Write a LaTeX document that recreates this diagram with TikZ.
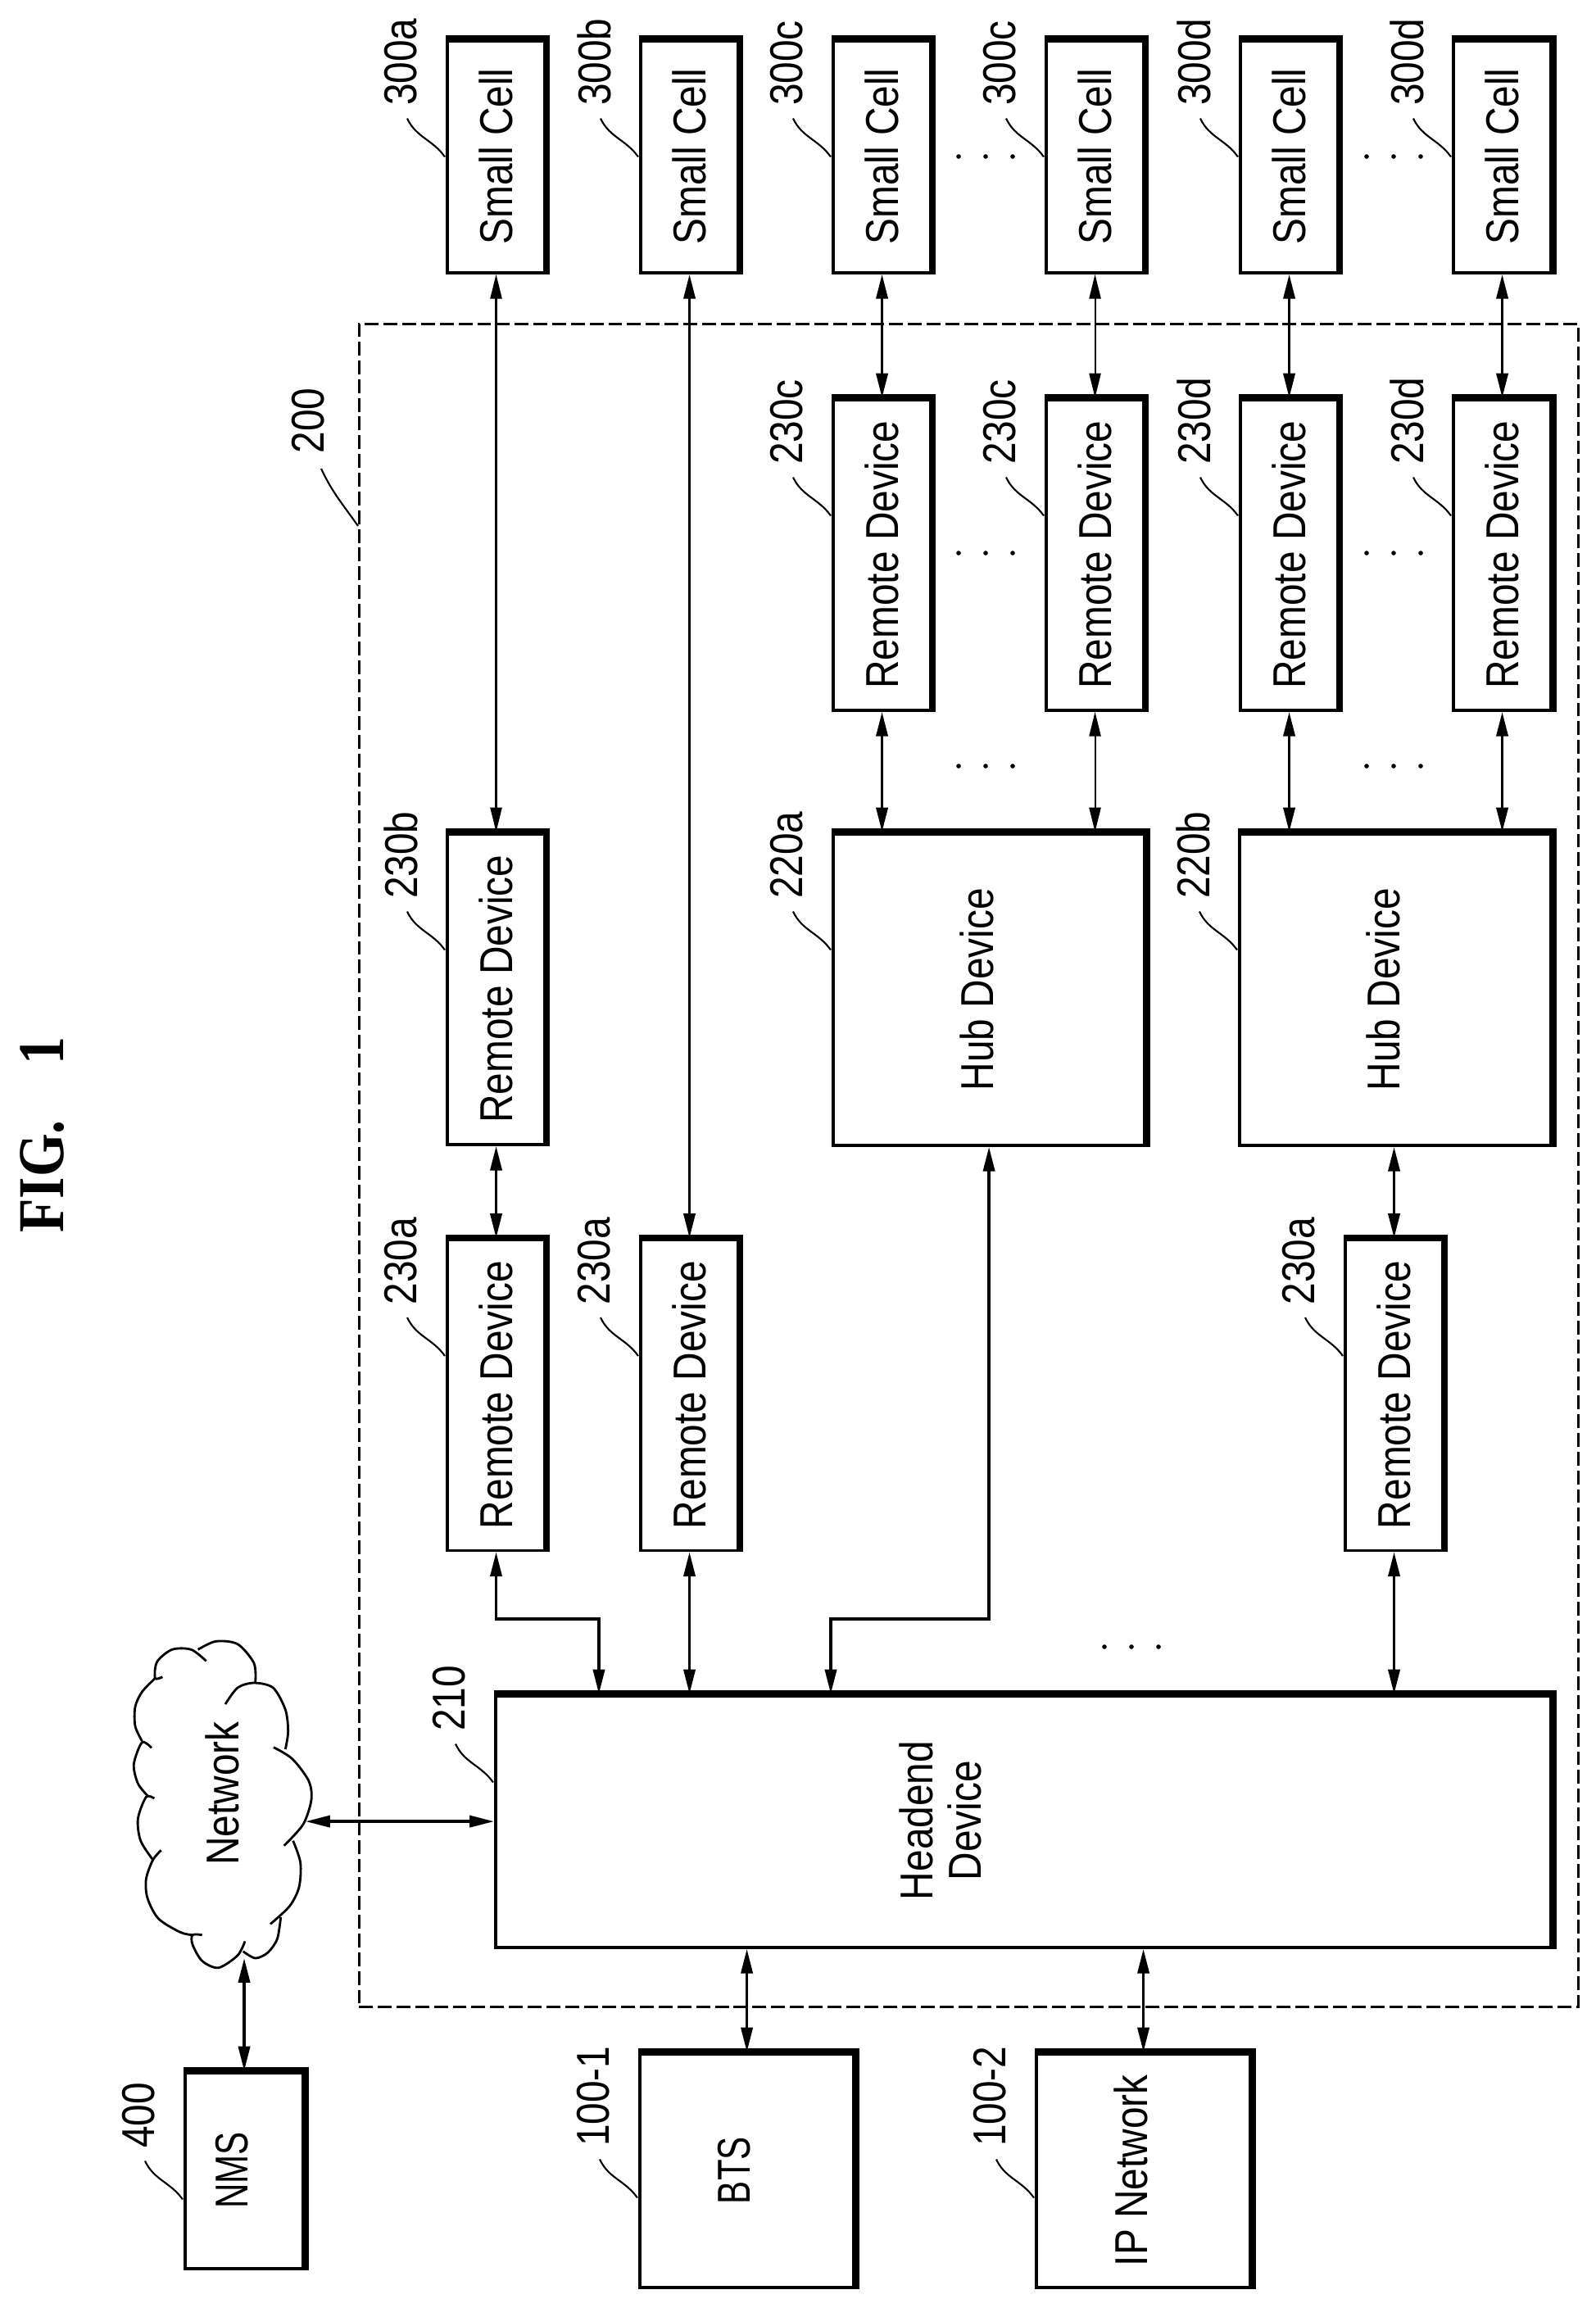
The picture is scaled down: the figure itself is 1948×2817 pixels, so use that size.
\documentclass[tikz,border=0pt]{standalone}
\usepackage{fontspec}
\setmainfont{Liberation Sans}
\newfontfamily\figfont{Liberation Serif}
\usetikzlibrary{arrows.meta}

\newcommand{\vt}[1]{\rotatebox{90}{\scalebox{0.85}[1]{#1}}}
\newcommand{\narrow}[1]{\scalebox{0.88}[1]{#1}}

\tikzset{
	devbox/.style={draw, line width=1pt, anchor=north west, inner sep=0pt, font=\fontsize{16}{17}\selectfont},
	cellbox/.style={devbox, minimum width=1.195cm, minimum height=2.835cm},
	remotebox/.style={devbox, minimum width=1.195cm, minimum height=3.795cm},
	hubbox/.style={devbox, minimum width=3.805cm, minimum height=3.805cm},
	bigbox/.style={devbox, minimum width=2.615cm, minimum height=2.855cm},
	idlabel/.style={anchor=south, inner sep=0pt, font=\fontsize{16}{17}\selectfont},
	boxtext/.style={inner sep=0pt, font=\fontsize{16}{17}\selectfont},
	leader/.style={line width=0.6pt},
	cloudline/.style={line width=0.8pt},
	link/.style={line width=1pt, {Stealth[length=8.5pt,width=4pt,inset=0pt]}-{Stealth[length=8.5pt,width=4pt,inset=0pt]}},
	thinlink/.style={link, line width=0.6pt},
}

\begin{document}
\begin{tikzpicture}[x=0.01cm, y=-0.01cm]

\path [use as bounding box] (0,0) rectangle (1948,2817);

% TITLE
\node [font=\figfont\bfseries\fontsize{22.7}{25}\selectfont, inner sep=0pt] (fig) at (52,1385) {\vt{FIG.\hspace{1em}1}};

% GROUP
\node [draw, dash pattern=on 4.8pt off 1.7pt, line width=0.75pt, anchor=north west, inner sep=0pt,
	minimum width=14.87cm, minimum height=20.53cm] (group) at (437,394) {};
\node [idlabel] (lgroup) at (376,554) {\vt{200}};
\draw [leader] (group.north west) ++(0,248) to[out=125,in=-65] ++(-45,-70);

% SMALL CELLS
\node [cellbox] (sa) at (544,47.5) {\vt{Small Cell}};
\node [cellbox] (sb) at (780,47.5) {\vt{Small Cell}};
\node [cellbox] (sc) at (1015,47.5) {\vt{Small Cell}};
\node [cellbox] (sd) at (1275,47.5) {\vt{Small Cell}};
\node [cellbox] (se) at (1512,47.5) {\vt{Small Cell}};
\node [cellbox] (sf) at (1772,47.5) {\vt{Small Cell}};

% REMOTE DEVICES
\node [remotebox] (rc) at (1015,485.5) {\vt{Remote Device}};
\node [remotebox] (rd) at (1275,485.5) {\vt{Remote Device}};
\node [remotebox] (re) at (1512,485.5) {\vt{Remote Device}};
\node [remotebox] (rf) at (1772,485.5) {\vt{Remote Device}};
\node [remotebox] (rb) at (544,1015.5) {\vt{Remote Device}};
\node [remotebox] (ra) at (544,1511) {\vt{Remote Device}};
\node [remotebox] (rg) at (780,1511) {\vt{Remote Device}};
\node [remotebox] (rh) at (1640,1511) {\vt{Remote Device}};

% HUBS
\node [hubbox] (huba) at (1015,1015.5) {};
\node [hubbox] (hubb) at (1511,1015.5) {};

% HEADEND
\node [devbox, minimum width=12.885cm, minimum height=3.075cm] (head) at (603,2067.5) {};
\node [boxtext] (thead) at (1156,2222) {\vt{\begin{tabular}{@{}c@{}}Headend\\Device\end{tabular}}};

% OUTSIDE
\node [devbox, minimum width=1.445cm, minimum height=2.395cm] (nms) at (224,2527.5) {};
\node [bigbox] (bts) at (779,2504.5) {};
\node [bigbox] (ipn) at (1263,2504.5) {};

% TEXT LEFT OF CENTRE
\foreach \n/\t in {huba/Hub Device,hubb/Hub Device,nms/\narrow{NMS},bts/\narrow{BTS},ipn/IP Network}
	\node [boxtext] (t\n) at ([xshift=-0.15cm]\n.center) {\vt{\t}};

% CLOUD
\node [boxtext] (net) at (271,2189) {\vt{Network}};
\coordinate (netport) at (373,2223);
\coordinate (netfoot) at (294,2390);
\begin{scope}[shift={(130,1950)}, x=0.01cm/3, y=-0.01cm/3]
\draw [cloudline] plot [smooth] coordinates {(205,290) (178,295) (185,235) (240,190) (310,190) (365,232)};
\draw [cloudline] plot [smooth] coordinates {(335,190) (400,160) (480,170) (540,240) (545,310)};
\draw [cloudline] plot [smooth] coordinates {(435,390) (480,330) (540,312) (610,330) (655,410) (665,490) (655,555)};
\draw [cloudline] plot [smooth] coordinates {(612,548) (680,590) (740,670) (750,740) (720,830) (650,908)};
\draw [cloudline] plot [smooth] coordinates {(683,890) (710,970) (705,1060) (670,1130) (600,1195)};
\draw [cloudline] plot [smooth] coordinates {(638,1170) (625,1250) (590,1300) (545,1320) (500,1295)};
\draw [cloudline] plot [smooth] coordinates {(507,1258) (480,1310) (410,1355) (350,1330) (315,1270) (315,1235) (350,1235)};
\draw [cloudline] plot [smooth] coordinates {(315,1235) (270,1225) (190,1175) (150,1100) (145,1030) (170,960) (200,925)};
\draw [cloudline] plot [smooth] coordinates {(170,960) (125,890) (115,810) (145,730) (175,735)};
\draw [cloudline] plot [smooth] coordinates {(150,725) (115,680) (100,610) (130,530) (165,550)};
\draw [cloudline] plot [smooth] coordinates {(130,525) (105,470) (105,400) (130,345) (178,295)};
\end{scope}

% THICK EDGES
\foreach \n in {sa,sb,sc,sd,se,sf,rc,rd,re,rf,rb,ra,rg,rh,huba,hubb,head,nms,bts,ipn}
	\draw [line width=2.5pt] (\n.north west) -- (\n.north east) -- (\n.south east);

% LABELS
\foreach \n/\t/\d in {sa/300a/82,sb/300b/82,sc/300c/82,sd/300c/82,se/300d/82,sf/300d/82,
	rc/230c/82,rd/230c/82,re/230d/82,rf/230d/82,rb/230b/82,ra/230a/82,rg/230a/82,rh/230a/82,
	huba/220a/82,hubb/220b/82,head/210/46,nms/400/95,bts/100-1/116,ipn/100-2/116} {
	\path (\n.north west) ++(-55,\d) node [idlabel] (l\n) {\vt{\t}};
	\draw [leader] (\n.north west) ++(-1,\d+62) to[out=125,in=-65] ++(-46,-47);
}

% LINKS
\draw [thinlink] (sa.south) -- (rb.north);
\draw [link] (sb.south) -- (rg.north);
\draw [thinlink] (sd.south) -- (rd.north);
\foreach \a/\b in {sc/rc,se/re,sf/rf,rb/ra}
	\draw [link] (\a.south) -- (\b.north);
\foreach \r/\h in {rc/huba,re/hubb,rf/hubb}
	\draw [link] (\r.south) -- (\r.south |- \h.north);
\draw [thinlink] (rd.south) -- (rd.south |- huba.north);
\draw [link] (rh.north) -- (rh.north |- hubb.south);
\draw [link] (rg.south) -- (rg.south |- head.north);
\draw [link] (rh.south) -- (rh.south |- head.north);
\draw [link] (bts.north) -- (bts.north |- head.south);
\draw [link] (ipn.north) -- (ipn.north |- head.south);

\coordinate (benda) at (731,1976);
\coordinate (bendb) at (1014,1976);
\draw [link] (ra.south) |- (benda) -- (benda |- head.north);
\draw [link] (huba.south) |- (bendb) -- (bendb |- head.north);

\draw [link] (head.west) -- (netport |- head.west);
\draw [link] (nms.north) -- (nms.north |- netfoot);

% DOTS
\foreach \x/\y in {1203/191,1203/675,1701/191,1701/675,1203/935,1701/935,1381/2010}
	\foreach \o in {-33,0,33}
		\fill (\x+\o,\y) circle (0.8pt);

\end{tikzpicture}
\end{document}
